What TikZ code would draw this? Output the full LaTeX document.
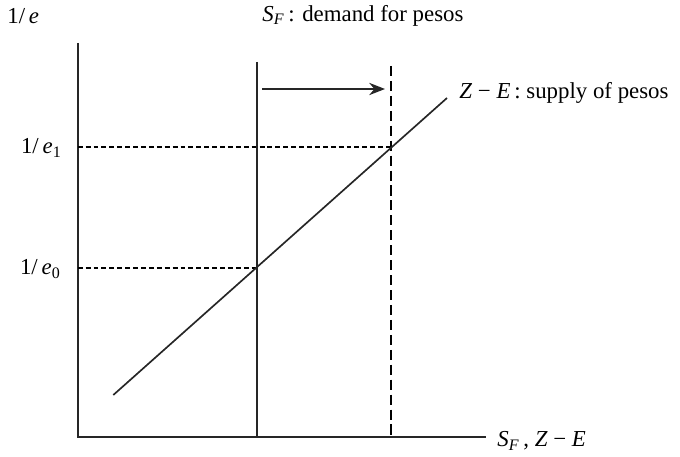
\documentclass[tikz,border=0pt]{standalone}
\usepackage{fontspec}
\setmainfont{Liberation Serif}
\usetikzlibrary{arrows.meta}

\tikzset{
  axisline/.style={line width=1.3pt, black!85},
  curveline/.style={line width=0.95pt, black!85},
  guideline/.style={line width=0.65pt, dash pattern=on 2.8pt off 1.7pt},
  shiftline/.style={line width=0.9pt, dash pattern=on 5.7pt off 2.8pt},
  lbl/.style={font=\fontsize{13}{15}\selectfont, inner sep=0pt}
}
\newcommand{\ie}{\textit{e}}
\newcommand{\sfx}{\textit{S}\textsubscript{\textit{F}}}
\newcommand{\zme}{\textit{Z}\hspace{0.25em}−\hspace{0.25em}\textit{E}}

\begin{document}
\begin{tikzpicture}
            % Same Bounding Box
            \useasboundingbox (0,0) rectangle (13.6,9.12);

            \coordinate (O) at (1.554,0.386);
            \coordinate (ytop) at (1.554,8.26);
            \coordinate (xend) at (9.72,0.386);
            \coordinate (dtop) at (5.14,7.88);
            \coordinate (dbot) at (5.14,0.386);
            \coordinate (ntop) at (7.82,7.8);
            \coordinate (nbot) at (7.82,0.386);
            \coordinate (slow) at (2.266,1.22);
            \coordinate (shigh) at (8.94,7.16);
            \coordinate (a0) at (5.24,7.34);
            \coordinate (a1) at (7.7,7.34);
            \coordinate (e0l) at (1.554,3.76);
            \coordinate (e0r) at (5.14,3.76);
            \coordinate (e1l) at (1.554,6.18);
            \coordinate (e1r) at (7.82,6.18);

            % Axes
            \draw[axisline] (ytop) -- (O) -- (xend);

            % Guides to the axis
            \draw[guideline] (e1l) -- (e1r);
            \draw[guideline] (e0l) -- (e0r);

            % Demand, old and new, and supply
            \draw[curveline] (dtop) -- (dbot);
            \draw[shiftline] (ntop) -- (nbot);
            \draw[curveline] (slow) -- (shigh);
            \draw[curveline, -{Stealth[length=9pt, width=7pt]}] (a0) -- (a1);

            % Labels
            \node[lbl, anchor=west] (ylab) at (0.14,8.8) {1/\,\ie};
            \node[lbl, anchor=west] (dlab) at (5.24,8.8) {\sfx\,: demand for pesos};
            \node[lbl, anchor=west] (slab) at (9.18,7.26) {\zme\,: supply of pesos};
            \node[lbl, anchor=east] (e1lab) at (1.24,6.16) {1/\,\ie\textsubscript{1}};
            \node[lbl, anchor=east] (e0lab) at (1.22,3.74) {1/\,\ie\textsubscript{0}};
            \node[lbl, anchor=west] (xlab) at (9.94,0.3) {\sfx\,, \zme};
        \end{tikzpicture}
\end{document}
